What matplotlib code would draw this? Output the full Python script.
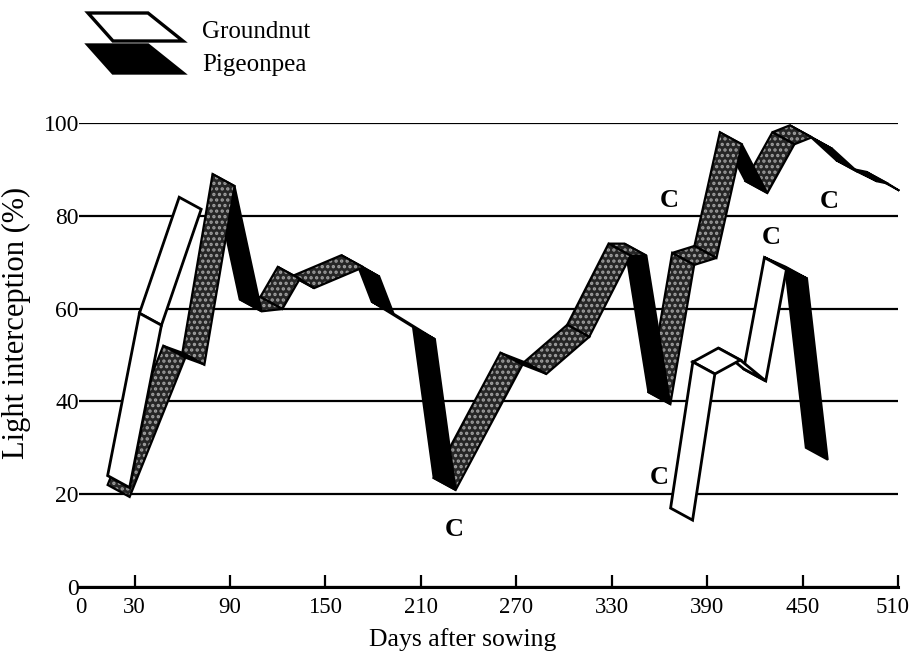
import numpy as np
import matplotlib
matplotlib.use("Agg")
import matplotlib.pyplot as plt
from matplotlib.patches import Polygon
from matplotlib.transforms import ScaledTranslation

plt.rcParams['font.family'] = ['Liberation Serif', 'DejaVu Serif']
plt.rcParams['hatch.linewidth'] = 1.6

# Pigeonpea light interception (%) by days after sowing
pp_days = [13, 48, 60, 79, 96, 109, 120, 129, 160, 170, 179, 205, 218, 260, 275,
           302, 328, 338, 353, 368, 382, 398, 414, 431, 442, 455, 471, 483, 490, 497]
pp_vals = [22, 52, 50.5, 89, 62, 62.5, 69, 67, 71.5, 69.5, 61.5, 56, 23.5, 50.5, 48.5,
           56.5, 74, 74, 42, 72, 73.5, 98, 87.5, 98, 99.5, 97, 92, 90, 89.5, 88]

# Groundnut, first and second crop
gn1_days = [13, 33, 58]
gn1_vals = [24, 59, 84]
gn2_days = [367, 381, 397, 413, 426, 439, 452]
gn2_vals = [17, 48.5, 51.5, 47, 71, 69, 30]

# Cutting marks
cut_label = "C"
cut_days = [231, 366, 467, 430, 360]
cut_vals = [12.3, 83.4, 83, 75.4, 23.5]

x_ticks = [0, 30, 90, 150, 210, 270, 330, 390, 450, 510]
y_ticks = [0, 20, 40, 60, 80, 100]

W, H = 914, 662
fig = plt.figure(figsize=(W / 100, H / 100), dpi=100)
ax = fig.add_axes([79 / W, 1 - 587 / H, (898 - 79) / W, (587 - 123) / H])
ax.set_xlim(-5, 510)
ax.set_ylim(0, 100)

# depth offset of the ribbons, in pixels (right, down)
DEPTH = np.array([22.0, -12.0])


def back_edge(x, y):
    pts = ax.transData.transform(np.column_stack([x, y]))
    return ax.transData.inverted().transform(pts + DEPTH)


def ribbon(days, vals, light_face, dark_steep, z):
    days = np.asarray(days, float)
    vals = np.asarray(vals, float)
    front = np.column_stack([days, vals])
    back = back_edge(days, vals)
    disp = ax.transData.transform(front)
    n = len(days)
    for i in reversed(range(n - 1)):
        quad = [front[i], front[i + 1], back[i + 1], back[i]]
        dxp = disp[i + 1, 0] - disp[i, 0]
        dyp = disp[i + 1, 1] - disp[i, 1]
        falling = dyp < 0 and (-dyp / max(dxp, 1e-6)) > dark_steep
        zz = z + (n - i) * 0.01
        if falling:
            ax.add_patch(Polygon(quad, closed=True, facecolor='black',
                                 edgecolor='black', lw=1.4, zorder=zz,
                                 clip_on=False))
        elif light_face == 'white':
            ax.add_patch(Polygon(quad, closed=True, facecolor='white',
                                 edgecolor='black', lw=2.0, zorder=zz,
                                 clip_on=False, joinstyle='miter'))
        else:
            ax.add_patch(Polygon(quad, closed=True, facecolor='#262626',
                                 edgecolor='none', zorder=zz, clip_on=False))
            ax.add_patch(Polygon(quad, closed=True, fill=False, hatch='...',
                                 edgecolor='#a0a0a0', lw=0, zorder=zz + 0.001,
                                 clip_on=False))
            ax.add_patch(Polygon(quad, closed=True, fill=False,
                                 edgecolor='black', lw=1.6, zorder=zz + 0.002,
                                 clip_on=False))


ribbon(pp_days, pp_vals, 'stipple', 0.0, 3)
ribbon(gn1_days, gn1_vals, 'white', 2.0, 5)
ribbon(gn2_days, gn2_vals, 'white', 2.0, 5)

for d, v in zip(cut_days, cut_vals):
    ax.text(d, v, cut_label, fontsize=19, fontweight='bold', ha='center',
            va='center', zorder=8)

# axes styling
ax.set_yticks(y_ticks)
ax.set_xticks(x_ticks)
ax.grid(axis='y', color='black', lw=1.6)
ax.set_axisbelow(True)
for s in ('top', 'right', 'left'):
    ax.spines[s].set_visible(False)
ax.spines['bottom'].set_linewidth(2.2)
ax.spines['bottom'].set_zorder(10)
ax.tick_params(axis='x', direction='in', length=9, width=1.6, labelsize=16.5, pad=7)
ax.tick_params(axis='y', length=0, labelsize=17, pad=0)
ax.xaxis.get_major_ticks()[0].tick1line.set_visible(False)

fig.canvas.draw()
xlabels = ax.get_xticklabels()
xlabels[0].set_transform(xlabels[0].get_transform()
                         + ScaledTranslation(-6 / 100, 0, fig.dpi_scale_trans))
xlabels[-1].set_transform(xlabels[-1].get_transform()
                          + ScaledTranslation(-5 / 100, 0, fig.dpi_scale_trans))

ax.set_xlabel('Days after sowing', fontsize=18.5)
ax.xaxis.set_label_coords(0.468, -0.088)
ax.set_ylabel('Light interception (%)', fontsize=22)
ax.yaxis.set_label_coords(-0.058, 0.57)

# legend swatches
def legend_swatch(top_px, face):
    verts = [(88, top_px), (148, top_px), (183, top_px + 28), (113, top_px + 28)]
    verts = [(x / W, 1 - y / H) for x, y in verts]
    fig.add_artist(Polygon(verts, closed=True, facecolor=face, edgecolor='black',
                           lw=2.4, transform=fig.transFigure))

legend_swatch(13, 'white')
legend_swatch(45, 'black')
fig.text(202 / W, 1 - 32 / H, 'Groundnut', fontsize=18, va='center', ha='left')
fig.text(202 / W, 1 - 65 / H, 'Pigeonpea', fontsize=18, va='center', ha='left')

fig.savefig('out.png', dpi=100)
